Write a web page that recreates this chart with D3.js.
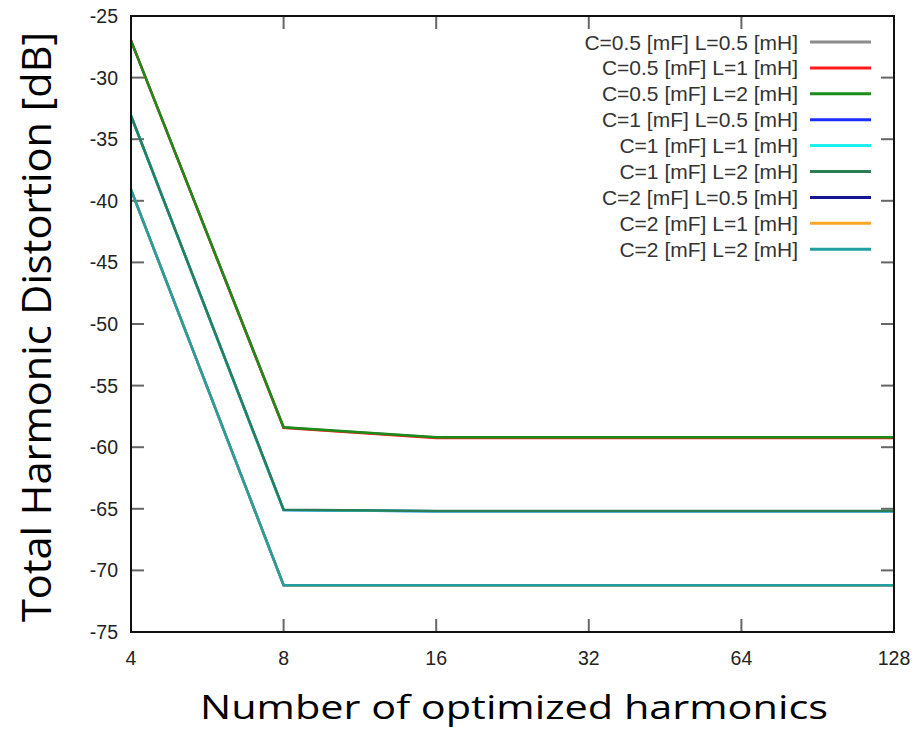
<!DOCTYPE html>
<html>
<head>
<meta charset="utf-8">
<script src="https://cdn.jsdelivr.net/npm/d3@7"></script>
<style>
  body { margin: 0; background: #fff; }
  svg { display: block; }
</style>
</head>
<body>
<svg id="chart" width="924" height="735"></svg>
<script>
// Data
const harmonics = [4, 8, 16, 32, 64, 128];
const yTicks = [-75, -70, -65, -60, -55, -50, -45, -40, -35, -30, -25];

const seriesNames = [
  "C=0.5 [mF] L=0.5 [mH]", "C=0.5 [mF] L=1 [mH]", "C=0.5 [mF] L=2 [mH]",
  "C=1 [mF] L=0.5 [mH]", "C=1 [mF] L=1 [mH]", "C=1 [mF] L=2 [mH]",
  "C=2 [mF] L=0.5 [mH]", "C=2 [mF] L=1 [mH]", "C=2 [mF] L=2 [mH]"
];
const seriesColors = [
  "#8c8c8c", "#ff1a1a", "#1a8c1a",
  "#1a2eff", "#1ef0f0", "#2a7d55",
  "#141496", "#ffa526", "#20a0a0"
];

const thdC05L05 = [-27.0, -58.4, -59.22, -59.22, -59.22, -59.22];
const thdC05L1  = [-27.0, -58.42, -59.25, -59.25, -59.25, -59.25];
const thdC05L2  = [-27.0, -58.38, -59.2, -59.2, -59.2, -59.2];
const thdC1L05  = [-33.1, -65.1, -65.2, -65.2, -65.2, -65.2];
const thdC1L1   = [-33.1, -65.1, -65.2, -65.2, -65.2, -65.2];
const thdC1L2   = [-33.1, -65.07, -65.17, -65.17, -65.17, -65.17];
const thdC2L05  = [-39.1, -71.2, -71.2, -71.2, -71.2, -71.2];
const thdC2L1   = [-39.1, -71.2, -71.2, -71.2, -71.2, -71.2];
const thdC2L2   = [-39.1, -71.2, -71.2, -71.2, -71.2, -71.2];

const seriesValues = [thdC05L05, thdC05L1, thdC05L2, thdC1L05, thdC1L1, thdC1L2, thdC2L05, thdC2L1, thdC2L2];

// Layout
const plot = { left: 131, right: 894, top: 16, bottom: 632 };
const svg = d3.select("#chart");

const x = d3.scaleLog().base(2).domain([4, 128]).range([plot.left, plot.right]);
const y = d3.scaleLinear().domain([-75, -25]).range([plot.bottom, plot.top]);

const tickLen = 13;
const tickColor = "#666";

// Inward ticks on all four sides (mirrored)
const grid = svg.append("g");
yTicks.forEach(v => {
  grid.append("line")
    .attr("x1", plot.left).attr("x2", plot.left + tickLen)
    .attr("y1", y(v)).attr("y2", y(v))
    .attr("stroke", tickColor).attr("stroke-width", 2);
  grid.append("line")
    .attr("x1", plot.right).attr("x2", plot.right - tickLen)
    .attr("y1", y(v)).attr("y2", y(v))
    .attr("stroke", tickColor).attr("stroke-width", 2);
});
harmonics.forEach(v => {
  grid.append("line")
    .attr("x1", x(v)).attr("x2", x(v))
    .attr("y1", plot.bottom).attr("y2", plot.bottom - tickLen)
    .attr("stroke", tickColor).attr("stroke-width", 2);
  grid.append("line")
    .attr("x1", x(v)).attr("x2", x(v))
    .attr("y1", plot.top).attr("y2", plot.top + tickLen)
    .attr("stroke", tickColor).attr("stroke-width", 2);
});

// Tick labels
svg.append("g").selectAll("text")
  .data(yTicks)
  .enter().append("text")
  .attr("x", plot.left - 13)
  .attr("y", d => y(d))
  .attr("dy", "0.36em")
  .attr("text-anchor", "end")
  .style("font-family", "'Liberation Sans', Arial, sans-serif")
  .style("font-size", "19.5px")
  .attr("fill", "#222")
  .text(d => d);

svg.append("g").selectAll("text")
  .data(harmonics)
  .enter().append("text")
  .attr("x", d => x(d))
  .attr("y", 665)
  .attr("text-anchor", "middle")
  .style("font-family", "'Liberation Sans', Arial, sans-serif")
  .style("font-size", "19.5px")
  .attr("fill", "#222")
  .text(d => d);

// Lines
const line = d3.line()
  .x((d, i) => x(harmonics[i]))
  .y(d => y(d));

svg.append("g").selectAll("path")
  .data(seriesValues)
  .enter().append("path")
  .attr("d", d => line(d))
  .attr("fill", "none")
  .attr("stroke", (d, i) => seriesColors[i])
  .attr("stroke-width", 2.5)
  .attr("stroke-linejoin", "miter");

// Frame
svg.append("rect")
  .attr("x", plot.left).attr("y", plot.top)
  .attr("width", plot.right - plot.left)
  .attr("height", plot.bottom - plot.top)
  .attr("fill", "none")
  .attr("stroke", "#111")
  .attr("stroke-width", 2);

// Legend
const legend = svg.append("g");
const legendItems = legend.selectAll("g")
  .data(seriesNames)
  .enter().append("g")
  .attr("transform", (d, i) => `translate(0, ${42 + i * 25.9})`);

legendItems.append("text")
  .attr("x", 798)
  .attr("dy", "0.36em")
  .attr("text-anchor", "end")
  .style("font-family", "'Liberation Sans', Arial, sans-serif")
  .style("font-size", "21px")
  .attr("fill", "#333")
  .text(d => d);

legendItems.append("line")
  .attr("x1", 810).attr("x2", 871)
  .attr("stroke", (d, i) => seriesColors[i])
  .attr("stroke-width", 3);

// Axis titles
svg.append("text")
  .attr("x", 200)
  .attr("y", 719)
  .attr("textLength", 628)
  .attr("lengthAdjust", "spacingAndGlyphs")
  .style("font-family", "'Open Sans', 'Noto Sans', sans-serif")
  .style("font-size", "33px")
  .attr("fill", "#000")
  .text("Number of optimized harmonics");

svg.append("text")
  .attr("transform", "translate(51, 622) rotate(-90)")
  .attr("x", 0)
  .attr("y", 0)
  .attr("textLength", 590)
  .attr("lengthAdjust", "spacingAndGlyphs")
  .style("font-family", "'Open Sans', 'Noto Sans', sans-serif")
  .style("font-size", "40px")
  .attr("fill", "#000")
  .text("Total Harmonic Distortion [dB]");
</script>
</body>
</html>
